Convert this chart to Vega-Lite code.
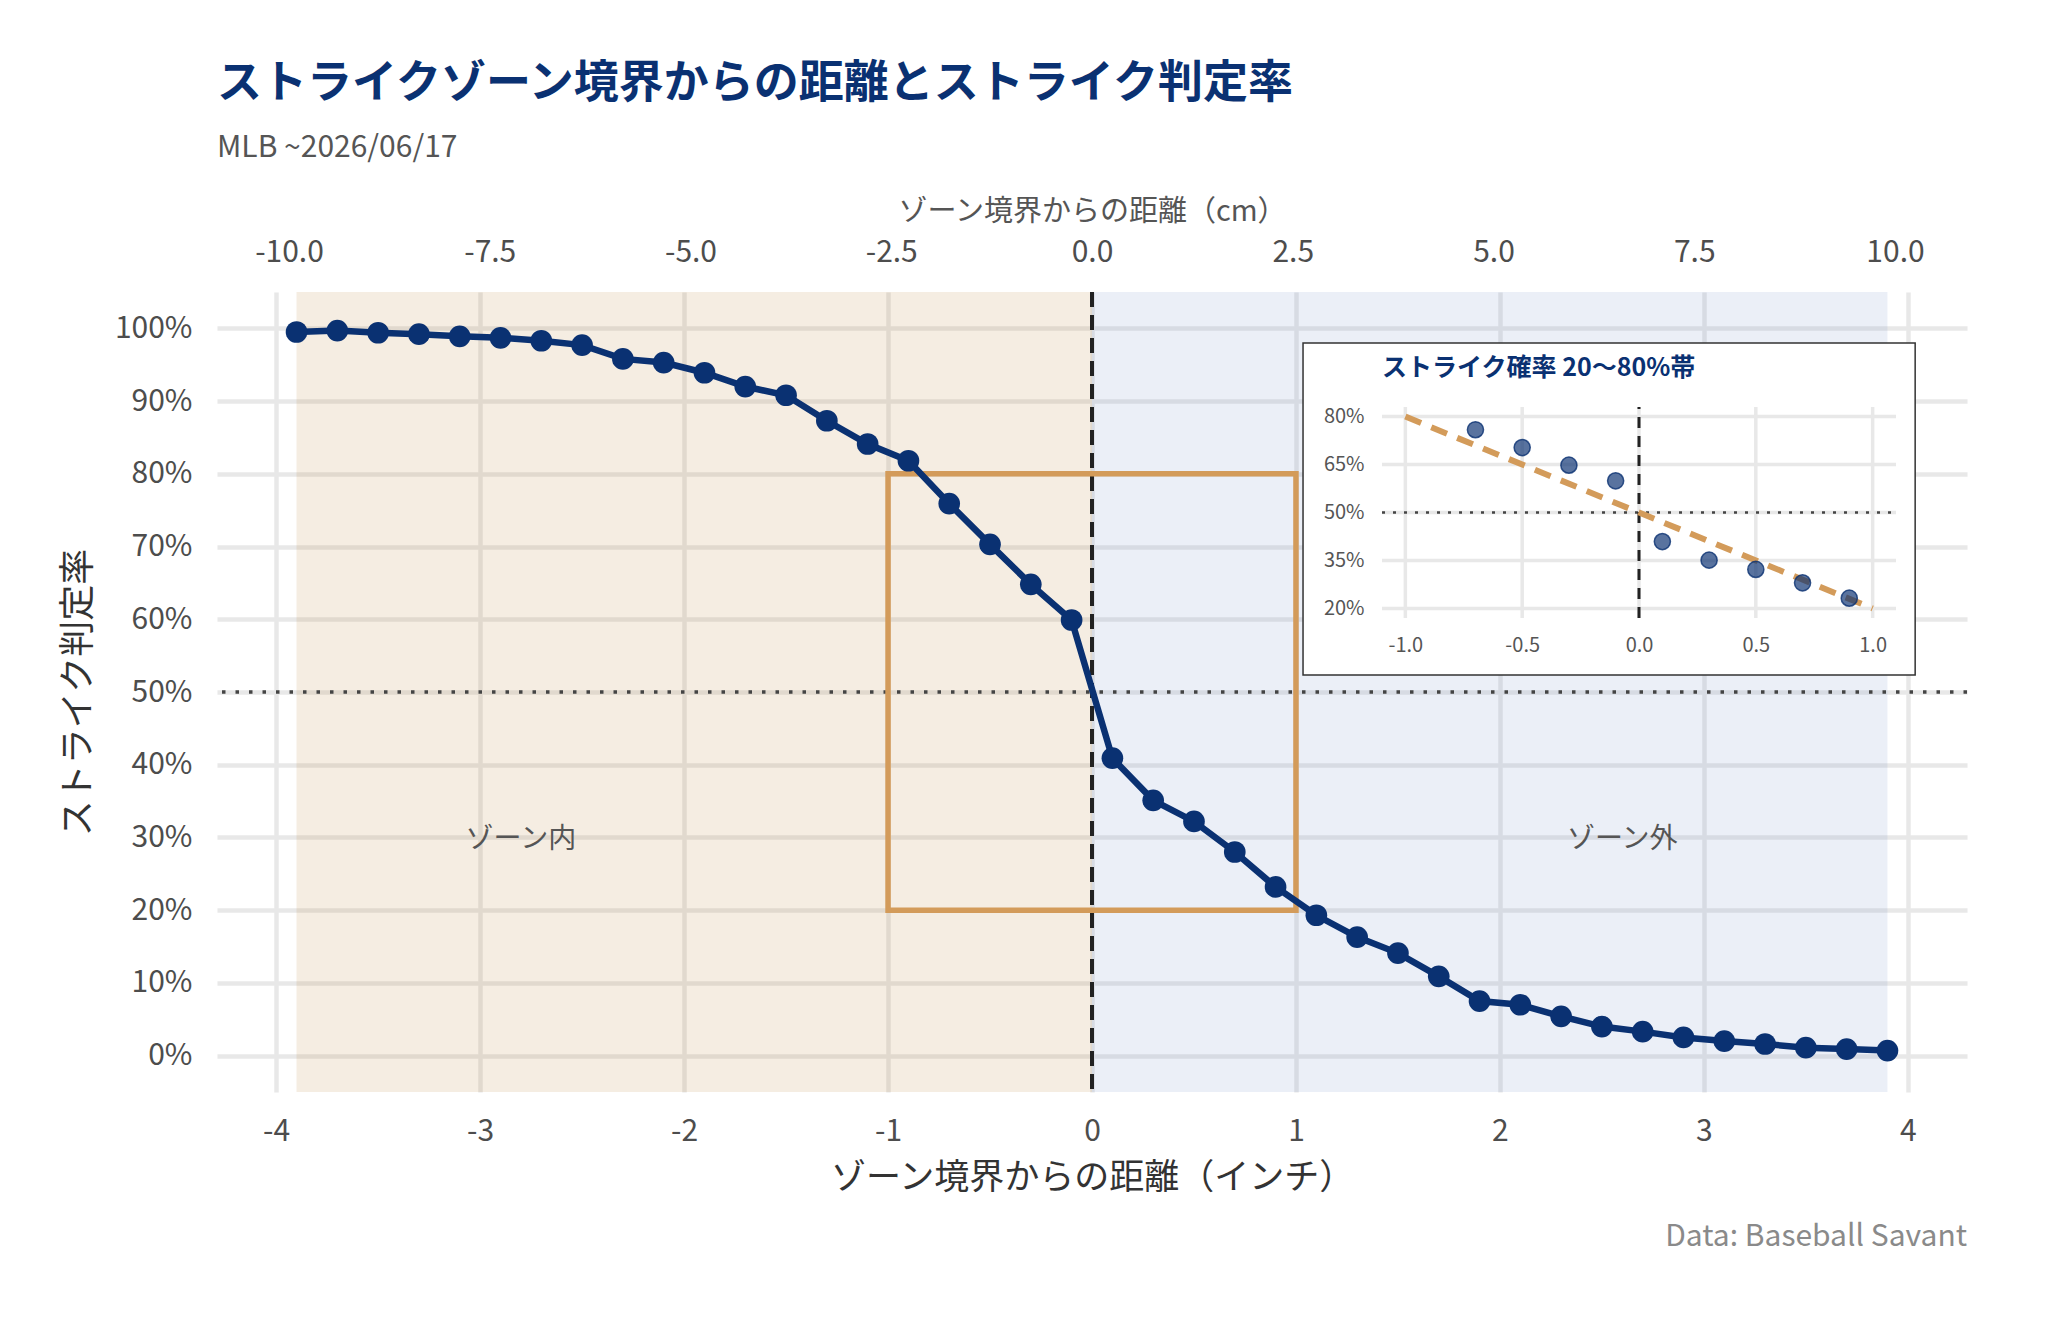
{
  "$schema": "https://vega.github.io/schema/vega-lite/v6.json",
  "width": 1750,
  "height": 800,
  "autosize": {"type": "none"},
  "padding": {"left": 217, "top": 292, "right": 81, "bottom": 228},
  "background": "#ffffff",
  "config": {
    "font": "Noto Sans CJK JP",
    "view": {"stroke": null},
    "axis": {
      "labelFont": "Noto Sans CJK JP",
      "titleFont": "Noto Sans CJK JP",
      "domain": false,
      "ticks": false,
      "gridColor": "#e8e8e8",
      "gridWidth": 4.5,
      "labelColor": "#4d4d4d",
      "titleFontWeight": "normal",
      "labelFlush": false,
      "labelExpr": "replace(datum.label, '−', '-')"
    }
  },
  "title": {
    "text": "ストライクゾーン境界からの距離とストライク判定率",
    "subtitle": "MLB ~2026/06/17",
    "anchor": "start",
    "frame": "group",
    "font": "Noto Sans CJK JP",
    "fontSize": 45,
    "fontWeight": "bold",
    "color": "#0a3172",
    "subtitleFont": "Noto Sans CJK JP",
    "subtitleFontSize": 30,
    "subtitleColor": "#555555",
    "subtitlePadding": 26,
    "offset": 34
  },
  "datasets": {
    "strike": [
      {"dist": -3.9, "rate": 0.995}, {"dist": -3.7, "rate": 0.997}, {"dist": -3.5, "rate": 0.994},
      {"dist": -3.3, "rate": 0.992}, {"dist": -3.1, "rate": 0.989}, {"dist": -2.9, "rate": 0.987},
      {"dist": -2.7, "rate": 0.983}, {"dist": -2.5, "rate": 0.977}, {"dist": -2.3, "rate": 0.958},
      {"dist": -2.1, "rate": 0.953}, {"dist": -1.9, "rate": 0.939}, {"dist": -1.7, "rate": 0.920},
      {"dist": -1.5, "rate": 0.908}, {"dist": -1.3, "rate": 0.873}, {"dist": -1.1, "rate": 0.841},
      {"dist": -0.9, "rate": 0.818}, {"dist": -0.7, "rate": 0.759}, {"dist": -0.5, "rate": 0.703},
      {"dist": -0.3, "rate": 0.648}, {"dist": -0.1, "rate": 0.599}, {"dist": 0.1, "rate": 0.409},
      {"dist": 0.3, "rate": 0.351}, {"dist": 0.5, "rate": 0.322}, {"dist": 0.7, "rate": 0.280},
      {"dist": 0.9, "rate": 0.232}, {"dist": 1.1, "rate": 0.193}, {"dist": 1.3, "rate": 0.163},
      {"dist": 1.5, "rate": 0.141}, {"dist": 1.7, "rate": 0.109}, {"dist": 1.9, "rate": 0.075},
      {"dist": 2.1, "rate": 0.070}, {"dist": 2.3, "rate": 0.054}, {"dist": 2.5, "rate": 0.040},
      {"dist": 2.7, "rate": 0.033}, {"dist": 2.9, "rate": 0.025}, {"dist": 3.1, "rate": 0.020},
      {"dist": 3.3, "rate": 0.016}, {"dist": 3.5, "rate": 0.011}, {"dist": 3.7, "rate": 0.009},
      {"dist": 3.9, "rate": 0.007}
    ],
    "zones": [
      {"zone": "ゾーン内", "dist": -3.9, "dist_end": 0},
      {"zone": "ゾーン外", "dist": 0, "dist_end": 3.9}
    ],
    "zone_labels": [
      {"dist": -2.8, "rate": 0.3, "label": "ゾーン内"},
      {"dist": 2.6, "rate": 0.3, "label": "ゾーン外"}
    ],
    "band": [{"dist": -1, "dist_end": 1, "rate": 0.2, "rate_end": 0.8}],
    "cm_ticks": [
      {"cm": -10}, {"cm": -7.5}, {"cm": -5}, {"cm": -2.5}, {"cm": 0},
      {"cm": 2.5}, {"cm": 5}, {"cm": 7.5}, {"cm": 10}
    ],
    "inset_x_ticks": [{"dist": -1}, {"dist": -0.5}, {"dist": 0}, {"dist": 0.5}, {"dist": 1}],
    "inset_y_ticks": [{"rate": 0.2}, {"rate": 0.35}, {"rate": 0.5}, {"rate": 0.65}, {"rate": 0.8}],
    "linear_ref": [{"dist": -1, "rate": 0.8}, {"dist": 1, "rate": 0.2}],
    "caption": [{"text": "Data: Baseball Savant"}]
  },
  "layer": [
    {
      "layer": [
        {
          "data": {"name": "zones"},
          "mark": {"type": "rect", "opacity": 0.136},
          "encoding": {
            "x": {
              "field": "dist", "type": "quantitative",
              "scale": {"domain": [-4.29, 4.29], "nice": false, "zero": false},
              "axis": {
                "orient": "bottom", "values": [-4, -3, -2, -1, 0, 1, 2, 3, 4], "format": "d",
                "title": "ゾーン境界からの距離（インチ）", "titleFontSize": 35, "titleColor": "#333333",
                "labelFontSize": 30, "labelPadding": 24, "titlePadding": 14, "grid": true
              }
            },
            "x2": {"field": "dist_end"},
            "y": {
              "datum": -0.05, "type": "quantitative",
              "scale": {"domain": [-0.05, 1.05], "nice": false, "zero": false},
              "axis": {
                "orient": "left", "values": [0, 0.1, 0.2, 0.3, 0.4, 0.5, 0.6, 0.7, 0.8, 0.9, 1.0],
                "format": ".0%", "title": "ストライク判定率", "titleFontSize": 36, "titleColor": "#333333",
                "labelFontSize": 30, "labelPadding": 25, "titlePadding": 17, "grid": true
              }
            },
            "y2": {"datum": 1.05},
            "color": {
              "field": "zone", "type": "nominal",
              "scale": {"domain": ["ゾーン内", "ゾーン外"], "range": ["#b67b2a", "#6c89c4"]},
              "legend": null
            }
          }
        },
        {
          "data": {"values": [{}]},
          "mark": {"type": "rule", "stroke": "#444444", "strokeWidth": 3.5, "strokeDash": [3.5, 10]},
          "encoding": {"y": {"datum": 0.5, "type": "quantitative"}}
        },
        {
          "data": {"values": [{}]},
          "mark": {"type": "rule", "stroke": "#222222", "strokeWidth": 4, "strokeDash": [15, 8]},
          "encoding": {"x": {"datum": 0, "type": "quantitative"}}
        },
        {
          "data": {"name": "band"},
          "mark": {"type": "rect", "fillOpacity": 0, "fill": "#ffffff", "stroke": "#d39b5a", "strokeWidth": 5.5},
          "encoding": {
            "x": {"field": "dist", "type": "quantitative"},
            "x2": {"field": "dist_end"},
            "y": {"field": "rate", "type": "quantitative"},
            "y2": {"field": "rate_end"}
          }
        },
        {
          "data": {"name": "strike"},
          "mark": {"type": "line", "stroke": "#0a3172", "strokeWidth": 6.5},
          "encoding": {
            "x": {"field": "dist", "type": "quantitative"},
            "y": {"field": "rate", "type": "quantitative"}
          }
        },
        {
          "data": {"name": "strike"},
          "mark": {"type": "point", "filled": true, "fill": "#0a3172", "opacity": 1, "size": 470},
          "encoding": {
            "x": {"field": "dist", "type": "quantitative"},
            "y": {"field": "rate", "type": "quantitative"}
          }
        },
        {
          "data": {"name": "zone_labels"},
          "mark": {"type": "text", "fontSize": 28, "color": "#555555", "align": "center", "baseline": "middle", "dy": 3},
          "encoding": {
            "x": {"field": "dist", "type": "quantitative"},
            "y": {"field": "rate", "type": "quantitative"},
            "text": {"field": "label"}
          }
        },
        {
          "data": {"name": "caption"},
          "mark": {"type": "text", "fontSize": 30, "color": "#8a8a8a", "align": "right", "baseline": "middle"},
          "encoding": {
            "x": {"datum": 4.29, "type": "quantitative"},
            "y": {"datum": -0.2494, "type": "quantitative"},
            "text": {"field": "text"}
          }
        }
      ]
    },
    {
      "data": {"name": "cm_ticks"},
      "mark": {"type": "rule", "opacity": 0},
      "encoding": {
        "x": {
          "field": "cm", "type": "quantitative",
          "scale": {"domain": [-10.8966, 10.8966], "nice": false, "zero": false},
          "axis": {
            "orient": "top", "values": [-10, -7.5, -5, -2.5, 0, 2.5, 5, 7.5, 10], "format": ".1f",
            "grid": false, "title": "ゾーン境界からの距離（cm）", "titleFontSize": 29, "titleColor": "#555555",
            "labelFontSize": 30, "labelPadding": 25, "titlePadding": 11
          }
        }
      }
    },
    {
      "layer": [
        {
          "data": {"values": [{}]},
          "mark": {"type": "rect", "fill": "#ffffff", "stroke": "#333333", "strokeWidth": 1.5},
          "encoding": {
            "x": {"datum": -1.438, "type": "quantitative", "scale": {"domain": [-1.1, 1.1], "range": [1165, 1679], "nice": false, "zero": false}},
            "x2": {"datum": 1.182},
            "y": {"datum": 1.03, "type": "quantitative", "scale": {"domain": [0.17, 0.83], "range": [326, 115], "nice": false, "zero": false}},
            "y2": {"datum": -0.008}
          }
        },
        {
          "data": {"name": "inset_x_ticks"},
          "mark": {"type": "rule", "stroke": "#e8e8e8", "strokeWidth": 3.5},
          "encoding": {
            "x": {"field": "dist", "type": "quantitative"},
            "y": {"datum": 0.17, "type": "quantitative"},
            "y2": {"datum": 0.83}
          }
        },
        {
          "data": {"name": "inset_y_ticks"},
          "mark": {"type": "rule", "stroke": "#e8e8e8", "strokeWidth": 3.5},
          "encoding": {
            "y": {"field": "rate", "type": "quantitative"},
            "x": {"datum": -1.1, "type": "quantitative"},
            "x2": {"datum": 1.1}
          }
        },
        {
          "data": {"values": [{}]},
          "mark": {"type": "rule", "stroke": "#444444", "strokeWidth": 2.5, "strokeDash": [3, 8]},
          "encoding": {
            "y": {"datum": 0.5, "type": "quantitative"},
            "x": {"datum": -1.1, "type": "quantitative"},
            "x2": {"datum": 1.1}
          }
        },
        {
          "data": {"values": [{}]},
          "mark": {"type": "rule", "stroke": "#222222", "strokeWidth": 3, "strokeDash": [11, 8]},
          "encoding": {
            "x": {"datum": 0, "type": "quantitative"},
            "y": {"datum": 0.17, "type": "quantitative"},
            "y2": {"datum": 0.83}
          }
        },
        {
          "data": {"name": "linear_ref"},
          "mark": {"type": "line", "stroke": "#d39b5a", "strokeWidth": 6, "strokeDash": [17, 11]},
          "encoding": {
            "x": {"field": "dist", "type": "quantitative"},
            "y": {"field": "rate", "type": "quantitative"}
          }
        },
        {
          "data": {"name": "strike"},
          "transform": [{"filter": {"field": "rate", "range": [0.2, 0.8]}}],
          "mark": {"type": "point", "filled": true, "fill": "#0a3172", "fillOpacity": 0.68, "stroke": "#0a3172", "strokeOpacity": 0.8, "strokeWidth": 1.5, "size": 260},
          "encoding": {
            "x": {
              "field": "dist", "type": "quantitative",
              "axis": {
                "orient": "bottom", "offset": -474, "values": [-1, -0.5, 0, 0.5, 1], "format": ".1f",
                "grid": false, "title": null, "labelFontSize": 20, "labelPadding": 17,
                "labelColor": "#555555", "zindex": 1
              }
            },
            "y": {
              "field": "rate", "type": "quantitative",
              "axis": {
                "orient": "left", "offset": -1165, "values": [0.2, 0.35, 0.5, 0.65, 0.8], "format": ".0%",
                "grid": false, "title": null, "labelFontSize": 20, "labelPadding": 18,
                "labelColor": "#555555", "zindex": 1
              }
            }
          }
        },
        {
          "data": {"values": [{}]},
          "mark": {"type": "text", "text": "ストライク確率 20〜80%帯", "fontSize": 25, "fontWeight": "bold", "color": "#0a3172", "align": "left", "baseline": "middle"},
          "encoding": {
            "x": {"datum": -1.1, "type": "quantitative"},
            "y": {"datum": 0.952, "type": "quantitative"}
          }
        }
      ]
    }
  ],
  "resolve": {
    "scale": {"x": "independent", "y": "independent"},
    "axis": {"x": "independent", "y": "independent"}
  }
}
